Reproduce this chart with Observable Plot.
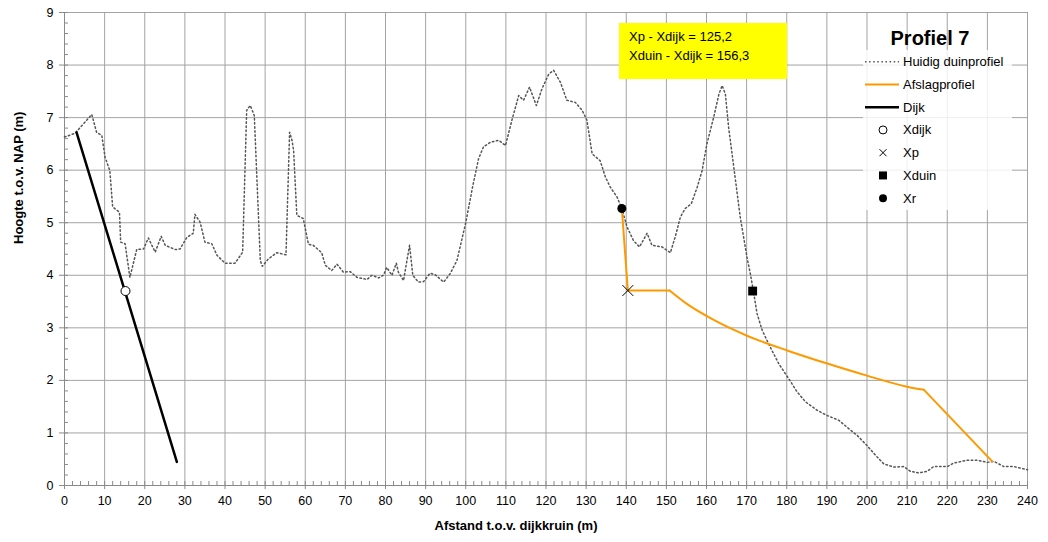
<!DOCTYPE html>
<html><head><meta charset="utf-8">
<script src="https://cdn.jsdelivr.net/npm/d3@7"></script>
<script src="https://cdn.jsdelivr.net/npm/@observablehq/plot@0.6"></script>
<style>
body{margin:0;background:#fff;font-family:"Liberation Sans",Arial,sans-serif;}
#wrap{position:relative;width:1048px;height:542px;overflow:hidden;}
#wrap svg.plot{position:absolute;left:0;top:0;}
.note{position:absolute;left:619px;top:23px;width:168px;height:56px;background:#ffff00;font-size:13px;color:#000;}
.note div{position:absolute;left:10px;white-space:nowrap;}
.legend{position:absolute;left:863px;top:50px;width:149px;height:160px;background:rgba(255,255,255,0.82);}
.ltitle{position:absolute;left:880px;top:27px;width:100px;text-align:center;font-weight:bold;font-size:20px;color:#000;}
</style></head><body>
<div id="wrap"></div>
<script>
// ---- data ----
const profile = [
[0,6.63],[2.6,6.70],[4.7,6.88],[6.8,7.06],[8,6.72],[9.3,6.66],[10.1,6.25],[11.3,5.99],[12,5.30],[13.7,5.20],
[14,4.63],[15.1,4.60],[16.3,3.96],[18,4.49],[19.7,4.50],[20.9,4.71],[22.6,4.44],[24.1,4.74],[25.1,4.57],[27.6,4.49],
[28.8,4.50],[30.5,4.72],[32.1,4.80],[32.5,5.16],[33.8,5.01],[35,4.63],[36.7,4.60],[38,4.38],[40,4.23],[42.5,4.23],
[44.4,4.44],[45.4,7.14],[46.3,7.23],[47.3,7.04],[48.8,4.28],[49.3,4.17],[50.8,4.31],[52.9,4.43],[55.2,4.39],[56.1,6.72],
[56.7,6.57],[57.1,6.37],[57.9,5.14],[59.5,5.08],[60.8,4.59],[62,4.57],[64.1,4.43],[65,4.19],[66.6,4.09],[67.9,4.21],
[69.5,4.06],[71.2,4.07],[72.9,3.96],[75.4,3.92],[76.6,4.00],[78.3,3.95],[79.5,4.00],[80.3,4.15],[81.6,4.00],[82.7,4.23],
[83.2,4.06],[84.5,3.90],[85.2,4.22],[86,4.57],[86.8,4.00],[88.2,3.87],[89.5,3.88],[91.1,4.04],[92.4,4.01],[94.5,3.87],
[96.1,4.03],[97.8,4.28],[100,5.00],[101.7,5.68],[103.2,6.22],[104.4,6.44],[106.1,6.53],[108.2,6.57],[109.9,6.47],[111.5,6.95],
[113.2,7.42],[114.4,7.33],[115.9,7.58],[117.6,7.23],[119,7.55],[120.7,7.83],[121.9,7.90],[123.6,7.67],[125.2,7.33],[127.3,7.29],
[129,7.14],[130.2,6.95],[131.5,6.31],[133.5,6.18],[134.8,5.87],[136,5.68],[137.7,5.49],[138.9,5.27],[140.2,4.92],[141.8,4.66],
[143.3,4.54],[145.2,4.80],[146.4,4.57],[148.9,4.54],[151,4.43],[152.2,4.73],[153.5,5.11],[154.7,5.27],[156.2,5.36],[157.7,5.68],
[158.9,5.99],[160.1,6.50],[161.8,7.01],[163.1,7.45],[163.9,7.61],[164.7,7.45],[165.5,6.82],[166.8,6.06],[168.4,5.11],[170.1,4.34],
[171,4.00],[171.8,3.65],[172.6,3.27],[173.9,2.95],[175.9,2.63],[178,2.32],[180.5,2.03],[182.6,1.78],[184.7,1.59],[187.6,1.43],
[190.1,1.33],[193,1.24],[195,1.11],[197.6,0.95],[200,0.76],[202.2,0.57],[204.2,0.41],[206.7,0.35],[209.2,0.36],[210.8,0.27],
[212.9,0.24],[215,0.27],[216.6,0.36],[220,0.36],[221.7,0.43],[225,0.48],[227.5,0.48],[230,0.44],[231.6,0.46],[234.1,0.36],
[236.6,0.36],[240,0.30]
];
// afslag profile: steep face, plateau, curved slope, final straight
const afslagFront = [[138.9,5.27],[140.4,3.71],[150.8,3.71]];
const afslagCurve = [[150.8,3.71],[155.2,3.45],[161.8,3.15],[170.1,2.85],[180.1,2.57],[190.1,2.32],[200,2.09],[210,1.88],[214.2,1.82]];
const afslagToe = [[214.2,1.82],[231.2,0.46]];
const dijk = [[3,6.72],[28,0.45]];
const xdijk = [[15.2,3.7]];
const xp = [[140.4,3.71]];
const xduin = [[171.5,3.7]];
const xr = [[138.9,5.27]];
const xTicks = d3.range(0,241,10);
const yTicks = d3.range(0,10,1);
const xMinor = d3.range(0,241,2);
const yMinor = d3.range(0,45.5,1).map(d=>d/5);
const noteLines = ["Xp - Xdijk = 125,2","Xduin - Xdijk = 156,3"];
const legendTitle = "Profiel 7";
const legendItems = [
  {label:"Huidig duinprofiel", kind:"dotted"},
  {label:"Afslagprofiel", kind:"orange"},
  {label:"Dijk", kind:"black"},
  {label:"Xdijk", kind:"open"},
  {label:"Xp", kind:"times"},
  {label:"Xduin", kind:"square"},
  {label:"Xr", kind:"dot"}
];
const xLabel = "Afstand t.o.v. dijkkruin (m)";
const yLabel = "Hoogte t.o.v. NAP (m)";

// ---- chart ----
const W=1048,H=542,mL=64,mR=21,mT=12,mB=57;
const pw=W-mL-mR, ph=H-mT-mB;
const grid="#a3a3a3", axisC="#8a8a8a";
const dotStroke="#555", dotDash="1.5,2.6";
const chart = Plot.plot({
  width:W,height:H,marginLeft:mL,marginRight:mR,marginTop:mT,marginBottom:mB,
  x:{domain:[0,240]}, y:{domain:[0,9]},
  style:{fontFamily:'"Liberation Sans",Arial,sans-serif',fontSize:"12.5px",color:"#000",background:"transparent"},
  marks:[
    Plot.ruleX(xTicks,{x:d=>d,stroke:grid,strokeWidth:1}),
    Plot.ruleY(yTicks,{y:d=>d,stroke:grid,strokeWidth:1}),
    Plot.tickX(xMinor,{x:d=>d,stroke:axisC,insetTop:ph-4}),
    Plot.tickY(yMinor,{y:d=>d,stroke:axisC,insetRight:pw-4}),
    Plot.tickX(xTicks,{x:d=>d,stroke:axisC,insetTop:ph,insetBottom:-4}),
    Plot.tickY(yTicks,{y:d=>d,stroke:axisC,insetRight:pw,insetLeft:-5}),
    Plot.ruleX([0],{stroke:axisC}),
    Plot.ruleY([0],{stroke:axisC}),
    Plot.axisX(xTicks,{tickSize:0,tickPadding:11,label:null,fill:"#000",tickFormat:d3.format("d")}),
    Plot.axisY(yTicks,{tickSize:0,tickPadding:11,label:null,fill:"#000",tickFormat:d3.format("d")}),
    Plot.line(profile,{x:d=>d[0],y:d=>d[1],stroke:dotStroke,strokeWidth:1.5,strokeDasharray:dotDash}),
    Plot.line(dijk,{x:d=>d[0],y:d=>d[1],stroke:"#000",strokeWidth:2.5}),
    Plot.line(afslagFront,{x:d=>d[0],y:d=>d[1],stroke:"#ff9900",strokeWidth:2}),
    Plot.line(afslagCurve,{x:d=>d[0],y:d=>d[1],stroke:"#ff9900",strokeWidth:2,curve:"monotone-x"}),
    Plot.line(afslagToe,{x:d=>d[0],y:d=>d[1],stroke:"#ff9900",strokeWidth:2}),
    Plot.dot(xdijk,{x:d=>d[0],y:d=>d[1],r:4.5,fill:"#fff",stroke:"#000",strokeWidth:1}),
    Plot.dot(xp,{x:d=>d[0],y:d=>d[1],r:5,symbol:"times",stroke:"#000",strokeWidth:1}),
    Plot.dot(xduin,{x:d=>d[0],y:d=>d[1],r:5,symbol:"square",fill:"#000",stroke:null}),
    Plot.dot(xr,{x:d=>d[0],y:d=>d[1],r:4.5,fill:"#000",stroke:null}),
    Plot.text([xLabel],{text:d=>d,frameAnchor:"bottom",dx:-30,dy:44,fontWeight:"bold",fontSize:13,fill:"#000"}),
    Plot.text([yLabel],{text:d=>d,frameAnchor:"left",dx:-46,dy:-5,rotate:-90,fontWeight:"bold",fontSize:13,fill:"#000"})
  ]
});
chart.classList.add("plot");
const wrap=document.getElementById("wrap");
wrap.appendChild(chart);

// yellow note
const note=document.createElement("div");note.className="note";
noteLines.forEach((t,i)=>{const d=document.createElement("div");d.textContent=t;d.style.top=(6+i*18.5)+"px";note.appendChild(d);});
wrap.appendChild(note);

// legend
const lt=document.createElement("div");lt.className="ltitle";lt.textContent=legendTitle;wrap.appendChild(lt);
const lg=document.createElement("div");lg.className="legend";wrap.appendChild(lg);
const ns="http://www.w3.org/2000/svg";
const ls=document.createElementNS(ns,"svg");ls.setAttribute("width",149);ls.setAttribute("height",160);
ls.style.position="absolute";ls.style.left="0";ls.style.top="0";lg.appendChild(ls);
legendItems.forEach((it,i)=>{
  const cy=11.7+i*22.75;
  const g=document.createElementNS(ns,"g");ls.appendChild(g);
  const mk=(tag,attrs)=>{const e=document.createElementNS(ns,tag);for(const k in attrs)e.setAttribute(k,attrs[k]);g.appendChild(e);return e;};
  if(it.kind==="dotted") mk("line",{x1:2,x2:36,y1:cy,y2:cy,stroke:dotStroke,"stroke-width":1.5,"stroke-dasharray":dotDash});
  if(it.kind==="orange") mk("line",{x1:2,x2:36,y1:cy,y2:cy,stroke:"#ff9900","stroke-width":2});
  if(it.kind==="black") mk("line",{x1:2,x2:36,y1:cy,y2:cy,stroke:"#000","stroke-width":2.5});
  if(it.kind==="open") mk("circle",{cx:20,cy:cy,r:4,fill:"#fff",stroke:"#000"});
  if(it.kind==="times"){mk("path",{d:`M${16.5},${cy-3.5}L${23.5},${cy+3.5}M${16.5},${cy+3.5}L${23.5},${cy-3.5}`,stroke:"#000"});}
  if(it.kind==="square") mk("rect",{x:16,y:cy-4,width:8,height:8,fill:"#000"});
  if(it.kind==="dot") mk("circle",{cx:20,cy:cy,r:4,fill:"#000"});
  const t=mk("text",{x:40,y:cy,"dominant-baseline":"central","font-size":13,"font-family":'"Liberation Sans",Arial,sans-serif',fill:"#000"});
  t.textContent=it.label;
});
</script>
</body></html>
